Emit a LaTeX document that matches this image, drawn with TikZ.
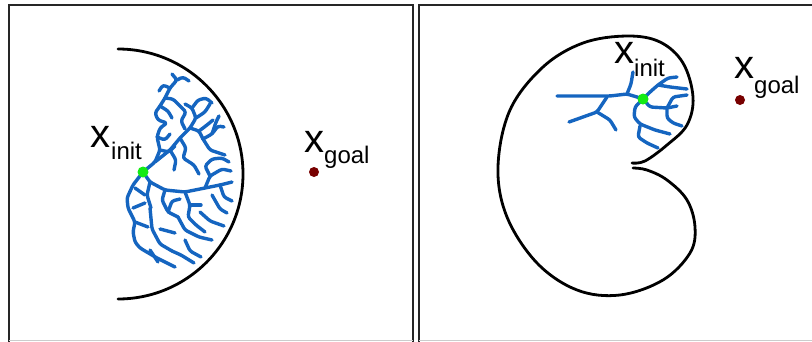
\documentclass[tikz,border=0pt]{standalone}
\usepackage{fontspec}
\setmainfont{Liberation Sans}
\usepackage{xcolor}
\definecolor{treeblue}{RGB}{21,101,192}
\definecolor{initgreen}{RGB}{20,235,20}
\definecolor{goalred}{RGB}{120,0,0}

\begin{document}
\begin{tikzpicture}[x=1pt, y=-1pt,
  frame/.style={draw=black!85, line width=2pt},
  obstacle/.style={draw=black, line width=2.8pt, line cap=round},
  tree/.style={draw=treeblue, line width=3.4pt, line cap=round, line join=round, rounded corners=2.5pt},
  bigx/.style={inner sep=0pt, anchor=base west, font=\fontsize{40}{40}\selectfont},
  sub/.style={inner sep=0pt, anchor=base west, font=\fontsize{24}{24}\selectfont},
  dot/.style={circle, inner sep=0pt, minimum size=#1}
]
\useasboundingbox (0,0) rectangle (812,341);

% Panel frames
\draw[frame] (9,345) |- (413,5) -- (413,345);
\draw[frame] (419,345) |- (818,5);
\draw[gray!40, line width=1pt] (9,340) -- (413,340) (419,340) -- (812,340);

% Left panel: obstacle
\draw[obstacle] (118,49) arc[start angle=-90, end angle=90, radius=125];

% Left panel: tree
\draw[tree] (143,172) -- (155,162) -- (160,150) -- (157,137) -- (160,128) -- (167,123) -- (158,120) -- (155,113) -- (160,106) -- (165,98) -- (170,88) -- (177,80) -- (172,74);
\draw[tree] (177,80) -- (183,77) -- (189,81);
\draw[tree] (170,88) -- (163,85) -- (159,91);
\draw[tree] (165,98) -- (173,99) -- (179,105) -- (186,112) -- (181,121) -- (185,129);
\draw[tree] (160,106) -- (168,111) -- (172,118);
\draw[tree] (157,137) -- (165,140) -- (170,134);
\draw[tree] (160,150) -- (169,152) -- (175,146);
\draw[tree] (155,162) -- (170,150) -- (180,138) -- (190,128) -- (196,118) -- (192,108) -- (185,104);
\draw[tree] (196,118) -- (205,112) -- (210,104);
\draw[tree] (192,108) -- (198,100) -- (206,98) -- (212,103);
\draw[tree] (190,128) -- (199,131) -- (203,139);
\draw[tree] (199,131) -- (207,125) -- (213,120);
\draw[tree] (180,138) -- (186,148) -- (183,158) -- (194,165) -- (199,174);
\draw[tree] (170,150) -- (176,160) -- (174,170);
\draw[tree] (203,139) -- (212,134) -- (218,126) -- (224,127);
\draw[tree] (212,134) -- (216,122) -- (219,116);
\draw[tree] (203,139) -- (210,150) -- (225,155);
\draw[tree] (143,172) -- (150,182) -- (165,190) -- (185,192) -- (205,188) -- (220,185) -- (232,182);
\draw[tree] (150,182) -- (147,195) -- (151,208);
\draw[tree] (165,190) -- (162,200) -- (168,212) -- (178,217);
\draw[tree] (168,212) -- (172,201) -- (180,199);
\draw[tree] (185,192) -- (190,205) -- (188,217) -- (196,225) -- (205,232);
\draw[tree] (190,205) -- (201,205);
\draw[tree] (205,188) -- (210,176) -- (222,169) -- (231,171);
\draw[tree] (210,176) -- (205,166) -- (212,159) -- (222,158) -- (229,162);
\draw[tree] (220,185) -- (224,197) -- (232,201);
\draw[tree] (212,195) -- (220,209) -- (227,213);
\draw[tree] (200,212) -- (210,221) -- (224,226);
\draw[tree] (178,217) -- (185,230) -- (199,237) -- (212,240);
\draw[tree] (150,208) -- (152,229) -- (160,244) -- (172,251);
\draw[tree] (160,229) -- (175,233);
\draw[tree] (185,240) -- (190,251) -- (201,257);
\draw[tree] (172,251) -- (181,255) -- (194,263);
\draw[tree] (143,172) -- (133,185) -- (127,198) -- (128,208) -- (135,222) -- (133,232) -- (135,242) -- (140,248) -- (157,258) -- (175,267);
\draw[tree] (135,188) -- (145,195);
\draw[tree] (133,208) -- (145,203);
\draw[tree] (135,222) -- (148,227);
\draw[tree] (150,250) -- (158,262);

% Left panel: start and goal
\node[dot=11pt, fill=initgreen] (initL) at (143,172) {};
\node[dot=10pt, fill=goalred] (goalL) at (314,172) {};
\node[bigx] (xinitL) at (90,147) {x};
\node[sub] (subinitL) at (111,159) {init};
\node[bigx] (xgoalL) at (304,152) {x};
\node[sub] (subgoalL) at (324,163) {goal};

% Right panel: obstacle
\draw[obstacle] plot[smooth, tension=0.6] coordinates {
  (632,163) (645,161) (667,145) (687,125) (693,97) (683,63) (660,42) (627,36) (583,43)
  (543,67) (510,110) (498,167) (507,217) (537,263) (577,290) (620,295)
  (663,280) (690,253) (695,227) (687,200) (667,180) (647,170) (633,168)};

% Right panel: tree
\draw[tree] (557,96) -- (580,96) -- (610,96) -- (627,94) -- (637,97) -- (643,99);
\draw[tree] (627,94) -- (631,84) -- (633,72);
\draw[tree] (569,122) -- (583,117) -- (597,112) -- (607,97);
\draw[tree] (597,112) -- (610,120) -- (616,130);
\draw[tree] (643,99) -- (650,92) -- (658,85) -- (668,78) -- (677,77);
\draw[tree] (658,85) -- (670,87) -- (687,89);
\draw[tree] (643,99) -- (650,107) -- (667,108) -- (677,106);
\draw[tree] (667,108) -- (673,97) -- (687,95);
\draw[tree] (667,108) -- (667,118) -- (673,123) -- (682,126);
\draw[tree] (643,99) -- (635,107) -- (634,117) -- (640,124) -- (655,130) -- (670,134);
\draw[tree] (640,126) -- (638,137) -- (647,143) -- (658,148);

% Right panel: start and goal
\node[dot=11pt, fill=initgreen] (initR) at (643,99) {};
\node[dot=10pt, fill=goalred] (goalR) at (740,100) {};
\node[bigx] (xinitR) at (614,63) {x};
\node[sub] (subinitR) at (634,76) {init};
\node[bigx] (xgoalR) at (734,78) {x};
\node[sub] (subgoalR) at (754,93) {goal};
\end{tikzpicture}
\end{document}
